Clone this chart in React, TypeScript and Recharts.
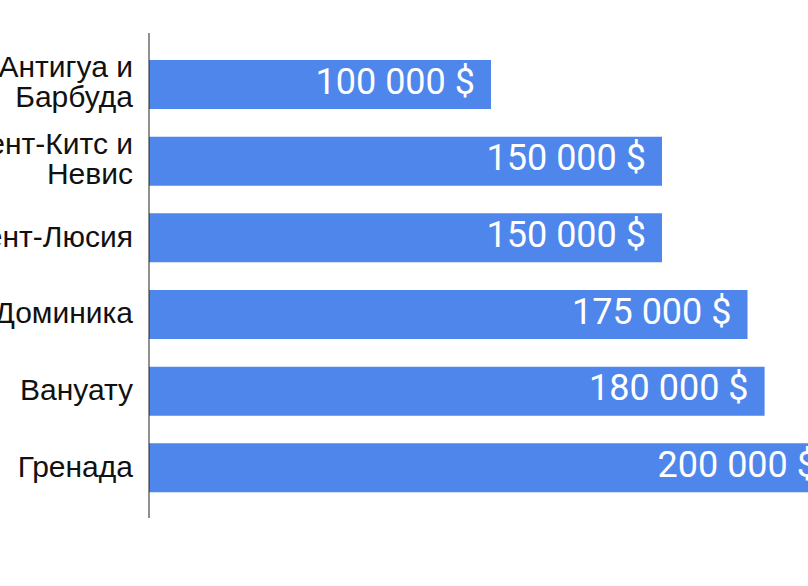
import React from "react";
import { BarChart, Bar, XAxis, YAxis, LabelList } from "recharts";

const countries = ["Антигуа и Барбуда", "Сент-Китс и Невис", "Сент-Люсия", "Доминика", "Вануату", "Гренада"];
const prices = [100000, 150000, 150000, 175000, 180000, 200000];

const data = countries.map((c, i) => ({ country: c, price: prices[i] }));

const fmt = (v: number) => v.toLocaleString("en-US").replace(/,/g, " ") + " $";

const wrap = (s: string, maxChars: number) => {
  const words = s.split(" ");
  const lines: string[] = [];
  let cur = "";
  for (const w of words) {
    const next = cur ? cur + " " + w : w;
    if (next.length > maxChars && cur) {
      lines.push(cur);
      cur = w;
    } else {
      cur = next;
    }
  }
  if (cur) lines.push(cur);
  return lines;
};

const CategoryTick = (props: any) => {
  const { x, y, payload } = props;
  const lines = wrap(String(payload.value), 11);
  const lh = 30;
  const firstBaseline = y + 9 - ((lines.length - 1) * lh) / 2 - (lines.length > 1 ? 1 : 0);
  return (
    <text
      x={x + 6}
      y={firstBaseline}
      textAnchor="end"
      fontSize={30}
      fontFamily="'Liberation Sans', Arial, sans-serif"
      fill="#111"
    >
      {lines.map((l, i) => (
        <tspan key={i} x={x + 6} y={firstBaseline + i * lh}>
          {l}
        </tspan>
      ))}
    </text>
  );
};

const ValueLabel = (props: any) => {
  const { x, y, width, height, value } = props;
  return (
    <text
      x={x + width - 16}
      y={y + height / 2 + 9}
      textAnchor="end"
      fill="#ffffff"
      fontSize={36}
      fontFamily="Roboto, sans-serif"
    >
      {fmt(value)}
    </text>
  );
};

export default function App() {
  return (
    <div style={{ position: "fixed", left: 0, top: 0, width: 808, height: 586, overflow: "hidden", background: "#fff" }}>
      <BarChart
        width={833}
        height={586}
        data={data}
        layout="vertical"
        margin={{ top: 33, right: 0, bottom: 68, left: 0 }}
      >
        <XAxis type="number" hide domain={[0, 200000]} />
        <YAxis
          type="category"
          dataKey="country"
          width={149}
          padding={{ top: 13, bottom: 12 }}
          axisLine={{ stroke: "#222", strokeWidth: 1 }}
          tickLine={false}
          tickMargin={16}
          tick={<CategoryTick />}
          interval={0}
        />
        <Bar dataKey="price" fill="#4e86ec" barSize={49} isAnimationActive={false}>
          <LabelList dataKey="price" content={<ValueLabel />} />
        </Bar>
      </BarChart>
    </div>
  );
}
